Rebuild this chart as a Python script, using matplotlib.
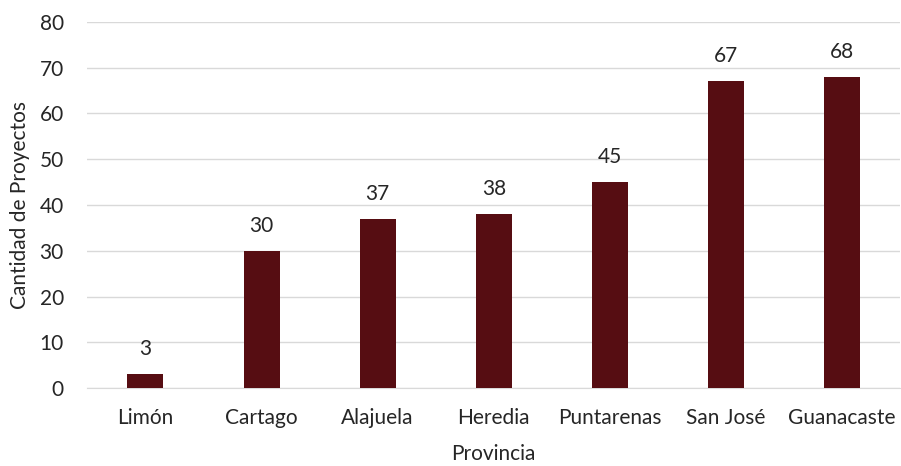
import matplotlib.pyplot as plt

plt.rcParams['font.family'] = ['Lato', 'DejaVu Sans']

provincias = ['Limón', 'Cartago', 'Alajuela', 'Heredia', 'Puntarenas', 'San José', 'Guanacaste']
proyectos = [3, 30, 37, 38, 45, 67, 68]
yticks = [0, 10, 20, 30, 40, 50, 60, 70, 80]

fig = plt.figure(figsize=(9.01, 4.66), dpi=100)
ax = fig.add_axes([0.097, 0.167, 0.902, 0.786])

bars = ax.bar(provincias, proyectos, width=0.31, color='#560D12', zorder=3)
for b, v in zip(bars, proyectos):
    ax.text(b.get_x() + b.get_width() / 2, v + 3.3, str(v), ha='center', va='bottom',
            fontsize=15, color='#262626')

ax.set_ylim(0, 80)
ax.set_xlim(-0.5, len(provincias) - 0.5)
ax.set_yticks(yticks)
ax.grid(axis='y', color='#d9d9d9', linewidth=1, zorder=0)
for s in ['top', 'right', 'left']:
    ax.spines[s].set_visible(False)
ax.spines['bottom'].set_color('#d9d9d9')
ax.tick_params(axis='both', length=0, labelsize=15, colors='#262626')
ax.tick_params(axis='x', pad=14)
ax.tick_params(axis='y', pad=17)
ax.set_xlabel('Provincia', fontsize=15, color='#262626', labelpad=12)
ax.set_ylabel('Cantidad de Proyectos', fontsize=15, color='#262626', labelpad=7)

fig.savefig('out.png', dpi=100)
